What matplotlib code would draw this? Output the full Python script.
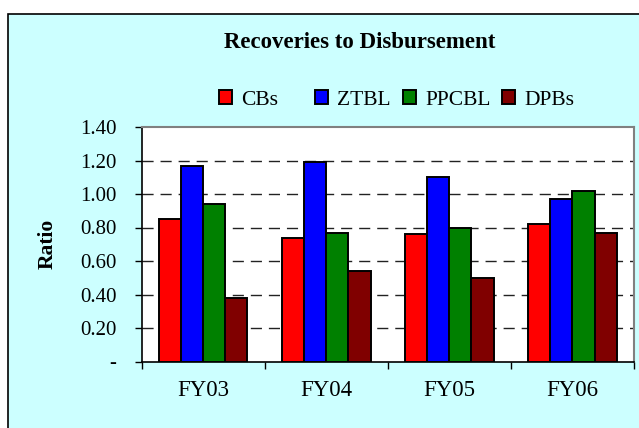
import numpy as np
import matplotlib.pyplot as plt
from matplotlib.patches import Rectangle

years = ["FY03", "FY04", "FY05", "FY06"]
series = ["CBs", "ZTBL", "PPCBL", "DPBs"]
cbs = [0.85, 0.74, 0.76, 0.82]
ztbl = [1.17, 1.19, 1.10, 0.97]
ppcbl = [0.94, 0.77, 0.80, 1.02]
dpbs = [0.38, 0.54, 0.50, 0.77]
colors = ["#FF0000", "#0000FF", "#008000", "#800000"]
yticks = [0, 0.2, 0.4, 0.6, 0.8, 1.0, 1.2, 1.4]

plt.rcParams['font.family'] = ['Liberation Serif', 'DejaVu Serif']

W, H = 639, 428
fig = plt.figure(figsize=(W / 100, H / 100), dpi=100)
fig.patch.set_facecolor("white")

# chart area (light cyan with a black frame, cut off at right/bottom)
fig.patches.append(Rectangle((8 / W, -0.05), 1.2, (H - 14) / H + 0.05,
                             transform=fig.transFigure, facecolor="#CCFFFF",
                             edgecolor="black", linewidth=1.2, zorder=-5))

left, right, top, bottom = 141.5, 634, 127, 361.5
ax = fig.add_axes([left / W, 1 - bottom / H, (right - left) / W, (bottom - top) / H])
ax.set_zorder(2)
ax.set_facecolor("white")

x = np.arange(len(years))
bw = 0.18
data = [cbs, ztbl, ppcbl, dpbs]
bars = []
for i, vals in enumerate(data):
    b = ax.bar(x + (i - 1.5) * bw, vals, bw, color=colors[i], edgecolor="black",
               linewidth=1.4, label=series[i], zorder=3)
    bars.append(b)

ax.set_xlim(-0.5, 3.5)
ax.set_ylim(0, 1.4)
for v in yticks[1:-1]:
    ax.axhline(v, color="#222222", linewidth=1, linestyle=(0, (8, 5)), zorder=1)

ax.set_yticks(yticks)
ax.set_yticklabels(["-" if v == 0 else "%.2f" % v for v in yticks], fontsize=15)
ax.set_xticks(np.arange(-0.5, 4, 1))
ax.set_xticklabels([])
ax.set_xticks(x, minor=True)
ax.set_xticklabels(years, minor=True, fontsize=16.5)
ax.tick_params(axis="x", which="minor", length=0, pad=13)
ax.tick_params(axis="x", which="major", length=5, width=1, direction="out")
ax.tick_params(axis="y", length=5, width=1, direction="out", pad=13)

for s in ["top", "right"]:
    ax.spines[s].set_color("#808080")
    ax.spines[s].set_linewidth(1.5)
for s in ["left", "bottom"]:
    ax.spines[s].set_color("black")
    ax.spines[s].set_linewidth(1.2)

ax.set_ylabel("Ratio", fontsize=15.5, fontweight="bold", labelpad=16)

fig.text(360 / W, 1 - 42 / H, "Recoveries to Disbursement", ha="center", va="center",
         fontsize=16.5, fontweight="bold")

# legend entries placed one by one (uneven spacing like the original)
leg_x = [219, 315, 403, 502]
for b, lab, lx in zip(bars, series, leg_x):
    lg = fig.legend([b], [lab], loc="center left", bbox_to_anchor=(lx / W, 1 - 100 / H),
                    frameon=False, fontsize=15.5, handlelength=0.6, handleheight=0.6,
                    handletextpad=0.42, borderpad=0, borderaxespad=0)
    lg.set_zorder(3)

fig.savefig("out.png", dpi=100)
